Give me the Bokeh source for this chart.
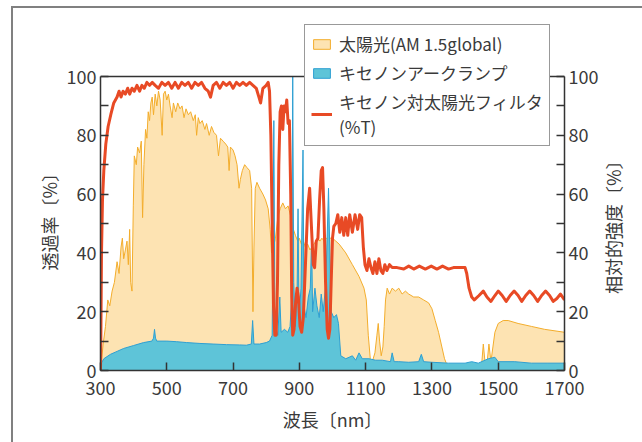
import math
from bokeh.plotting import figure
from bokeh.models import (Range1d, LinearAxis, FixedTicker, Legend, LegendItem, Span, Title)
from bokeh.embed import file_html
from bokeh.resources import INLINE

FONT = "Noto Sans CJK JP"

# 太陽光 AM1.5 global (相対的強度 %)
solar_wl = [300, 303, 308, 315, 322, 328, 335, 342, 350, 356, 362, 366, 370, 375,
            380, 384, 388, 391, 395, 399, 402, 408, 412, 418, 423, 427, 431, 436,
            440, 444, 448, 452, 456, 460, 465, 470, 475, 480, 486, 490, 495, 500,
            505, 510, 516, 520, 527, 533, 540, 546, 552, 558, 565, 572, 580, 586,
            590, 595, 600, 607, 615, 620, 628, 635, 642, 650, 656, 662, 670, 678,
            684, 688, 692, 700, 706, 712, 718, 722, 728, 735, 742, 750, 756, 760,
            763, 767, 772, 780, 790, 798, 806, 812, 816, 822, 828, 835, 842, 850,
            858, 866, 875, 882, 888, 895, 900, 906, 912, 918, 925, 932, 938, 944,
            950, 956, 962, 968, 975, 982, 990, 1000, 1010, 1020, 1040, 1060, 1080,
            1095, 1102, 1108, 1114, 1120, 1128, 1134, 1138, 1142, 1147, 1152, 1156,
            1160, 1165, 1172, 1180, 1190, 1200, 1210, 1220, 1230, 1245, 1260, 1275,
            1290, 1300, 1310, 1320, 1330, 1338, 1345, 1360, 1400, 1440, 1450, 1455,
            1460, 1466, 1472, 1478, 1484, 1490, 1500, 1515, 1530, 1560, 1600, 1640,
            1700]
solar_val = [0, 3, 9, 15, 24, 22, 27, 30, 37, 33, 42, 45, 38, 41,
             44, 36, 48, 30, 27, 56, 73, 70, 76, 74, 78, 52, 70, 82,
             79, 88, 85, 91, 93, 87, 94, 90, 95, 92, 80, 94, 95, 92,
             94, 90, 86, 91, 88, 91, 89, 90, 86, 89, 87, 88, 85, 87,
             80, 86, 84, 85, 82, 84, 80, 83, 81, 80, 73, 79, 78, 77,
             76, 68, 76, 75, 73, 70, 62, 65, 68, 70, 69, 68, 62, 20,
             42, 62, 64, 62, 60, 58, 55, 48, 40, 42, 45, 52, 55, 57,
             55, 56, 52, 48, 46, 44, 45, 43, 44, 42, 43, 41, 42, 43,
             44, 45, 44, 45, 44, 45, 45, 45, 44, 43, 40, 36, 32,
             28, 24, 12, 4, 3, 6, 12, 16, 10, 5, 8, 15,
             24, 28, 26, 28, 27, 28, 26, 27, 26, 25, 25, 24,
             23, 21, 17, 13, 8, 4, 2, 1, 1, 1, 2, 9,
             3, 2, 9, 3, 8, 13, 16, 17, 17, 16, 15, 14,
             13]

# キセノンアークランプ (相対的強度 %)
xenon_wl = [300, 310, 330, 350, 370, 400, 430, 455, 460, 463, 466, 470, 500, 530,
            560, 600, 640, 680, 720, 740, 755, 759, 763, 780, 800, 810, 818, 820,
            823, 826, 830, 835, 841, 845, 855, 865, 872, 877, 880, 883, 888, 893,
            896, 899, 905, 911, 914, 920, 927, 933, 937, 940, 947, 953, 960, 966,
            972, 980, 988, 992, 996, 1004, 1012, 1018, 1025, 1040, 1060, 1070, 1080,
            1090, 1110, 1130, 1150, 1175, 1180, 1186, 1200, 1230, 1260, 1268, 1275,
            1300, 1350, 1400, 1420, 1440, 1470, 1490, 1500, 1550, 1600, 1650, 1700]
xenon_val = [2, 4, 5.5, 6.5, 7.5, 8.5, 9.5, 10, 11, 14, 11, 10, 10, 9.8,
             9.5, 9.2, 9, 8.8, 8.7, 8.6, 9, 17, 9, 9, 9.5, 10, 12, 40,
             85, 20, 14, 12, 25, 13, 14, 13, 15, 25, 100, 30, 15, 25,
             55, 18, 28, 75, 22, 18, 25, 28, 45, 20, 28, 22, 18, 26,
             20, 30, 62, 40, 20, 18, 19, 16, 5, 4, 5, 3.5, 6,
             4, 4, 3.5, 3.5, 3, 6, 3, 3, 2.8, 3, 5.5, 3,
             2.8, 2.5, 2.5, 3, 2.5, 4, 4.5, 3, 3, 2.5, 2.5, 2.5]

# キセノン対太陽光フィルタ 透過率 (%T)
filter_wl = [300, 301, 303, 306, 310, 316, 323, 331, 340, 350, 356, 362, 368, 375,
             382, 388, 395, 402, 410, 418, 425, 432, 440, 448, 456, 465, 475, 485,
             495, 505, 515, 525, 535, 545, 555, 565, 575, 585, 595, 605, 615, 625,
             632, 640, 650, 660, 670, 680, 690, 700, 710, 720, 730, 740, 750, 760,
             770, 778, 783, 790, 800, 806, 810, 814, 818, 822, 826, 830, 834, 838,
             842, 846, 850, 854, 858, 862, 866, 870, 874, 877, 880, 884, 888, 893,
             897, 902, 907, 912, 918, 925, 931, 936, 942, 946, 951, 956, 961, 966,
             970, 974, 979, 984, 988, 992, 996, 1000, 1004, 1010, 1016, 1022, 1028,
             1034, 1040, 1046, 1052, 1060, 1068, 1076, 1082, 1088, 1093, 1098, 1104,
             1110, 1116, 1122, 1128, 1134, 1140, 1146, 1152, 1158, 1164, 1172, 1180,
             1195, 1215, 1230, 1245, 1262, 1280, 1298, 1315, 1332, 1350, 1365, 1385,
             1400, 1405, 1412, 1420, 1428, 1442, 1455, 1466, 1478, 1490, 1500, 1512,
             1524, 1536, 1548, 1560, 1571, 1583, 1595, 1607, 1619, 1631, 1643, 1655,
             1666, 1677, 1688, 1700]
filter_val = [0, 10, 40, 58, 68, 77, 83, 87, 91, 93, 95, 93, 95, 94,
              96, 94, 96, 95, 97, 95, 97, 96, 98, 97, 98, 97, 96, 98,
              97, 98, 96, 98, 96, 98, 97, 98, 96, 98, 97, 98, 96, 95,
              93, 97, 98, 96, 98, 97, 98, 96, 98, 97, 98, 97, 98, 97,
              96, 93, 91, 96, 97, 98, 95, 80, 50, 22, 12, 12, 30, 70,
              88, 90, 82, 90, 88, 92, 84, 85, 60, 25, 12, 14, 22, 28,
              25, 15, 13, 18, 35, 55, 62, 50, 36, 35, 44, 45, 58, 68,
              69, 55, 30, 14, 11, 14, 30, 45, 49, 50, 53, 47, 52,
              46, 52, 46, 53, 47, 53, 48, 53, 52, 42, 36, 34,
              38, 35, 33, 37, 33, 38, 34, 33, 36, 34, 36, 35,
              35, 34.5, 35.5, 34.5, 35.5, 34.5, 35.5, 34.5, 35.5, 34.5, 35, 35,
              35, 33, 28, 25, 24, 25.5, 27, 25, 23.5, 25.5, 27, 25.5,
              23.5, 25.5, 27, 25.5, 23.5, 25.5, 27, 25.5, 23.5, 25.5, 27, 25.5,
              23.5, 24.5, 26, 24]

x_ticks = [300, 500, 700, 900, 1100, 1300, 1500, 1700]
y_ticks = [0, 20, 40, 60, 80, 100]
y_minor = [10, 30, 50, 70, 90]

TXT = "#3a3a3a"
AX = "#333333"

# the frame reaches above the 100 % line so the legend box can sit over it
frame_top, axis_top, axis_bottom = 20, 76, 370
y_max = 100 * (axis_bottom - frame_top) / (axis_bottom - axis_top)

panel_bg = ("linear-gradient(#808080,#808080) 11px 6px / 2px 100% no-repeat, "
            "linear-gradient(#808080,#808080) 11px 6px / 100% 2px no-repeat, white")

p = figure(width=642, height=442, x_range=Range1d(300, 1700), y_range=Range1d(0, y_max),
           output_backend="svg", toolbar_location=None,
           min_border_left=100, min_border_right=74, min_border_top=frame_top,
           min_border_bottom=442 - axis_bottom,
           styles={"background": panel_bg})
p.extra_y_ranges = {"rel": Range1d(0, y_max)}
p.grid.visible = False
p.background_fill_color = "white"
p.border_fill_color = None
p.outline_line_color = None

# spectra on the right-hand (relative intensity) scale
sol_x = [solar_wl[0]] + solar_wl + [solar_wl[-1]]
sol_y = [0] + solar_val + [0]
sun = p.patch(sol_x, sol_y, fill_color="#fde3b2", line_color="#f3ad2c", line_width=1,
              y_range_name="rel")
xe_x = [xenon_wl[0]] + xenon_wl + [xenon_wl[-1]]
xe_y = [0] + xenon_val + [0]
xe = p.patch(xe_x, xe_y, fill_color="#5ec4d8", line_color="#2e9fd2", line_width=1,
             y_range_name="rel")
# filter transmittance on the left-hand scale
flt = p.line(filter_wl, filter_val, line_color="#e84a25", line_width=3, line_join="round")

# top edge of the plotting box
p.add_layout(Span(location=100, dimension="width", line_color=AX, line_width=1.5))

# axes
xa = p.xaxis[0]
xa.ticker = FixedTicker(ticks=x_ticks)
xa.axis_label = "波長〔nm〕"
ya = p.yaxis[0]
ya.ticker = FixedTicker(ticks=y_ticks, minor_ticks=y_minor)
ya.bounds = (0, 100)
yr = LinearAxis(y_range_name="rel", bounds=(0, 100),
                ticker=FixedTicker(ticks=y_ticks, minor_ticks=y_minor))
p.add_layout(yr, "right")

for ax in (xa, ya, yr):
    ax.axis_line_color = AX
    ax.axis_line_width = 1.5
    ax.major_tick_line_color = AX
    ax.major_tick_line_width = 1.5
    ax.major_tick_in = 8
    ax.major_tick_out = 0
    ax.minor_tick_line_color = AX
    ax.minor_tick_line_width = 1.5
    ax.minor_tick_in = 8
    ax.minor_tick_out = 0
    ax.major_label_text_font = FONT
    ax.major_label_text_font_size = "18px"
    ax.major_label_text_color = TXT
    ax.axis_label_text_font = FONT
    ax.axis_label_text_font_size = "18px"
    ax.axis_label_text_font_style = "normal"
    ax.axis_label_text_color = TXT
xa.minor_tick_line_color = None
xa.major_label_standoff = 10
xa.axis_label_standoff = 8
ya.major_label_standoff = 4
yr.major_label_standoff = 4

# left title, read bottom-to-top, placed level with the 0-100 span
p.add_layout(Title(text="透過率〔%〕", align="left", offset=100, standoff=4,
                   text_font=FONT, text_font_size="18px", text_font_style="normal",
                   text_color=TXT), "left")

# right title: a bare outer axis whose single rotated label starts low on the scale
title_start = 26
yt = LinearAxis(y_range_name="rel", ticker=FixedTicker(ticks=[title_start]),
                major_label_overrides={title_start: "相対的強度〔%〕"},
                major_label_orientation=math.pi / 2,
                axis_line_color=None, major_tick_line_color=None, minor_tick_line_color=None,
                major_tick_in=0, major_tick_out=0, major_label_standoff=12,
                major_label_text_font=FONT, major_label_text_font_size="18px",
                major_label_text_color=TXT)
p.add_layout(yt, "right")

legend = Legend(items=[
    LegendItem(label="太陽光(AM 1.5global)", renderers=[sun]),
    LegendItem(label="キセノンアークランプ", renderers=[xe]),
    LegendItem(label="キセノン対太陽光フィルタ\n(%T)", renderers=[flt]),
], location=(204, 224))
legend.label_text_font = FONT
legend.label_text_font_size = "17px"
legend.label_text_color = TXT
legend.border_line_color = AX
legend.border_line_width = 1.5
legend.background_fill_color = "white"
legend.background_fill_alpha = 1.0
legend.padding = 6
legend.spacing = 4
legend.margin = 0
legend.glyph_width = 21
legend.glyph_height = 12
legend.label_standoff = 7
p.add_layout(legend, "center")

open("out.html", "w").write(file_html(p, INLINE))
